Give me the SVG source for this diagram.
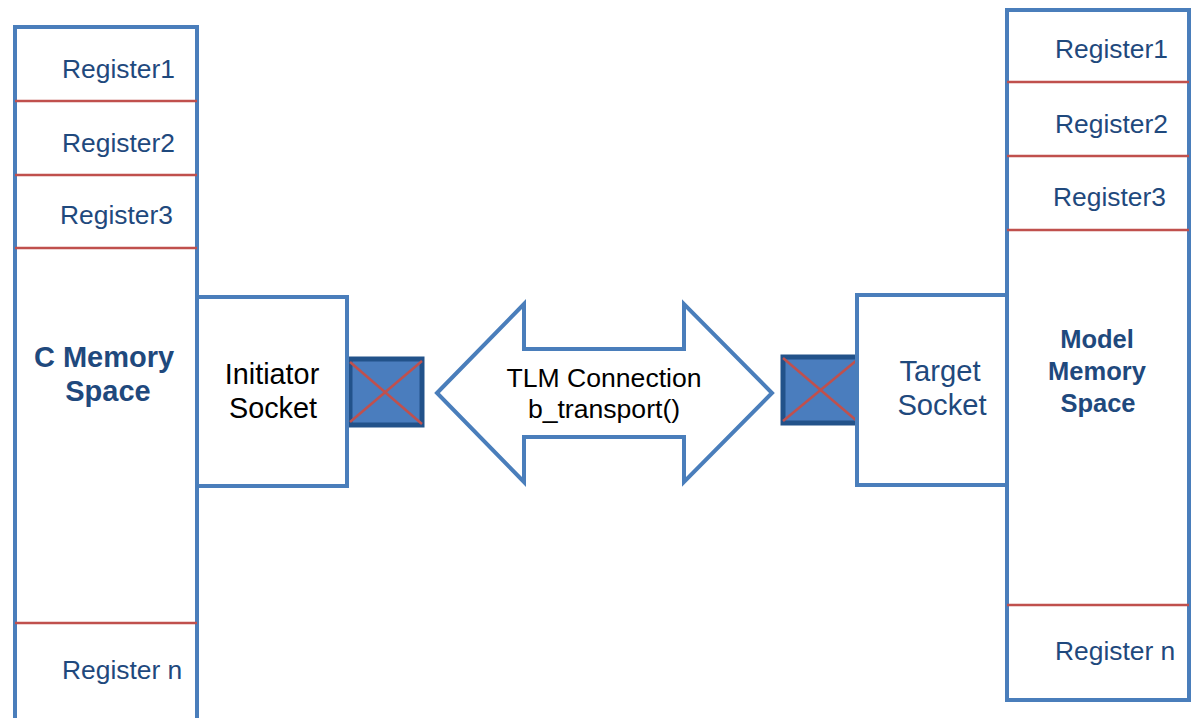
<svg xmlns="http://www.w3.org/2000/svg" width="1191" height="718" viewBox="0 0 1191 718">
<style>
.box{fill:#fff;stroke:#4a7ebb;stroke-width:4}
.sep{stroke:#c0504d;stroke-width:2.5}
.reg{font-family:"Liberation Sans",Arial,sans-serif;font-size:26.4px;fill:#1f497d}
.bold{font-family:"Liberation Sans",Arial,sans-serif;font-weight:bold;fill:#1f497d;text-anchor:middle}
.blk{font-family:"Liberation Sans",Arial,sans-serif;font-size:26.6px;fill:#000;text-anchor:middle}
.big{font-size:28.8px}
.tgt{font-size:29.2px;text-anchor:middle}
.sock{fill:#4a7dbe;stroke:#22528a;stroke-width:5}
.x{stroke:#c0504d;stroke-width:2.5}
</style>
<rect width="1191" height="718" fill="#fff"/>
<g id="c-memory">
<rect class="box" x="15" y="27" width="182" height="700"/>
<line class="sep" x1="15" y1="101" x2="197" y2="101"/>
<line class="sep" x1="15" y1="175" x2="197" y2="175"/>
<line class="sep" x1="15" y1="248" x2="197" y2="248"/>
<line class="sep" x1="15" y1="623" x2="197" y2="623"/>
<text class="reg" x="62" y="78">Register1</text>
<text class="reg" x="62" y="152">Register2</text>
<text class="reg" x="60" y="224">Register3</text>
<text class="reg" x="62" y="679">Register n</text>
<text class="bold" font-size="29" x="104" y="367">C Memory</text>
<text class="bold" font-size="29" x="108" y="401">Space</text>
</g>
<g id="initiator-socket">
<rect class="sock" x="350" y="359" width="72" height="66"/>
<line class="x" x1="350" y1="362" x2="422" y2="424"/>
<line class="x" x1="350" y1="422" x2="422" y2="361"/>
<rect class="box" x="197" y="297" width="150" height="189"/>
<text class="blk big" x="272" y="384">Initiator</text>
<text class="blk big" x="273" y="418">Socket</text>
</g>
<g id="connectors">
<polygon points="437,393 524,304 524,349 684,349 684,304 772,393 684,482 684,437 524,437 524,482" fill="#fff" stroke="#4a7ebb" stroke-width="4" stroke-linejoin="miter"/>
<text class="blk" x="604" y="387">TLM Connection</text>
<text class="blk" x="604" y="418">b_transport()</text>
</g>
<g id="target-socket">
<rect class="sock" x="783" y="357" width="76" height="66"/>
<line class="x" x1="783" y1="358" x2="857" y2="421"/>
<line class="x" x1="783" y1="421" x2="857" y2="360"/>
<rect class="box" x="857" y="295" width="150" height="190"/>
<text class="reg tgt" x="940" y="381">Target</text>
<text class="reg tgt" x="942" y="415">Socket</text>
</g>
<g id="model-memory">
<rect class="box" x="1007" y="10" width="182" height="690"/>
<line class="sep" x1="1007" y1="82" x2="1189" y2="82"/>
<line class="sep" x1="1007" y1="156" x2="1189" y2="156"/>
<line class="sep" x1="1007" y1="230" x2="1189" y2="230"/>
<line class="sep" x1="1007" y1="605" x2="1189" y2="605"/>
<text class="reg" x="1055" y="58">Register1</text>
<text class="reg" x="1055" y="133">Register2</text>
<text class="reg" x="1053" y="206">Register3</text>
<text class="reg" x="1055" y="660">Register n</text>
<text class="bold" font-size="25.5" x="1097" y="348">Model</text>
<text class="bold" font-size="25.5" x="1097" y="380">Memory</text>
<text class="bold" font-size="25.5" x="1098" y="412">Space</text>
</g>
</svg>
